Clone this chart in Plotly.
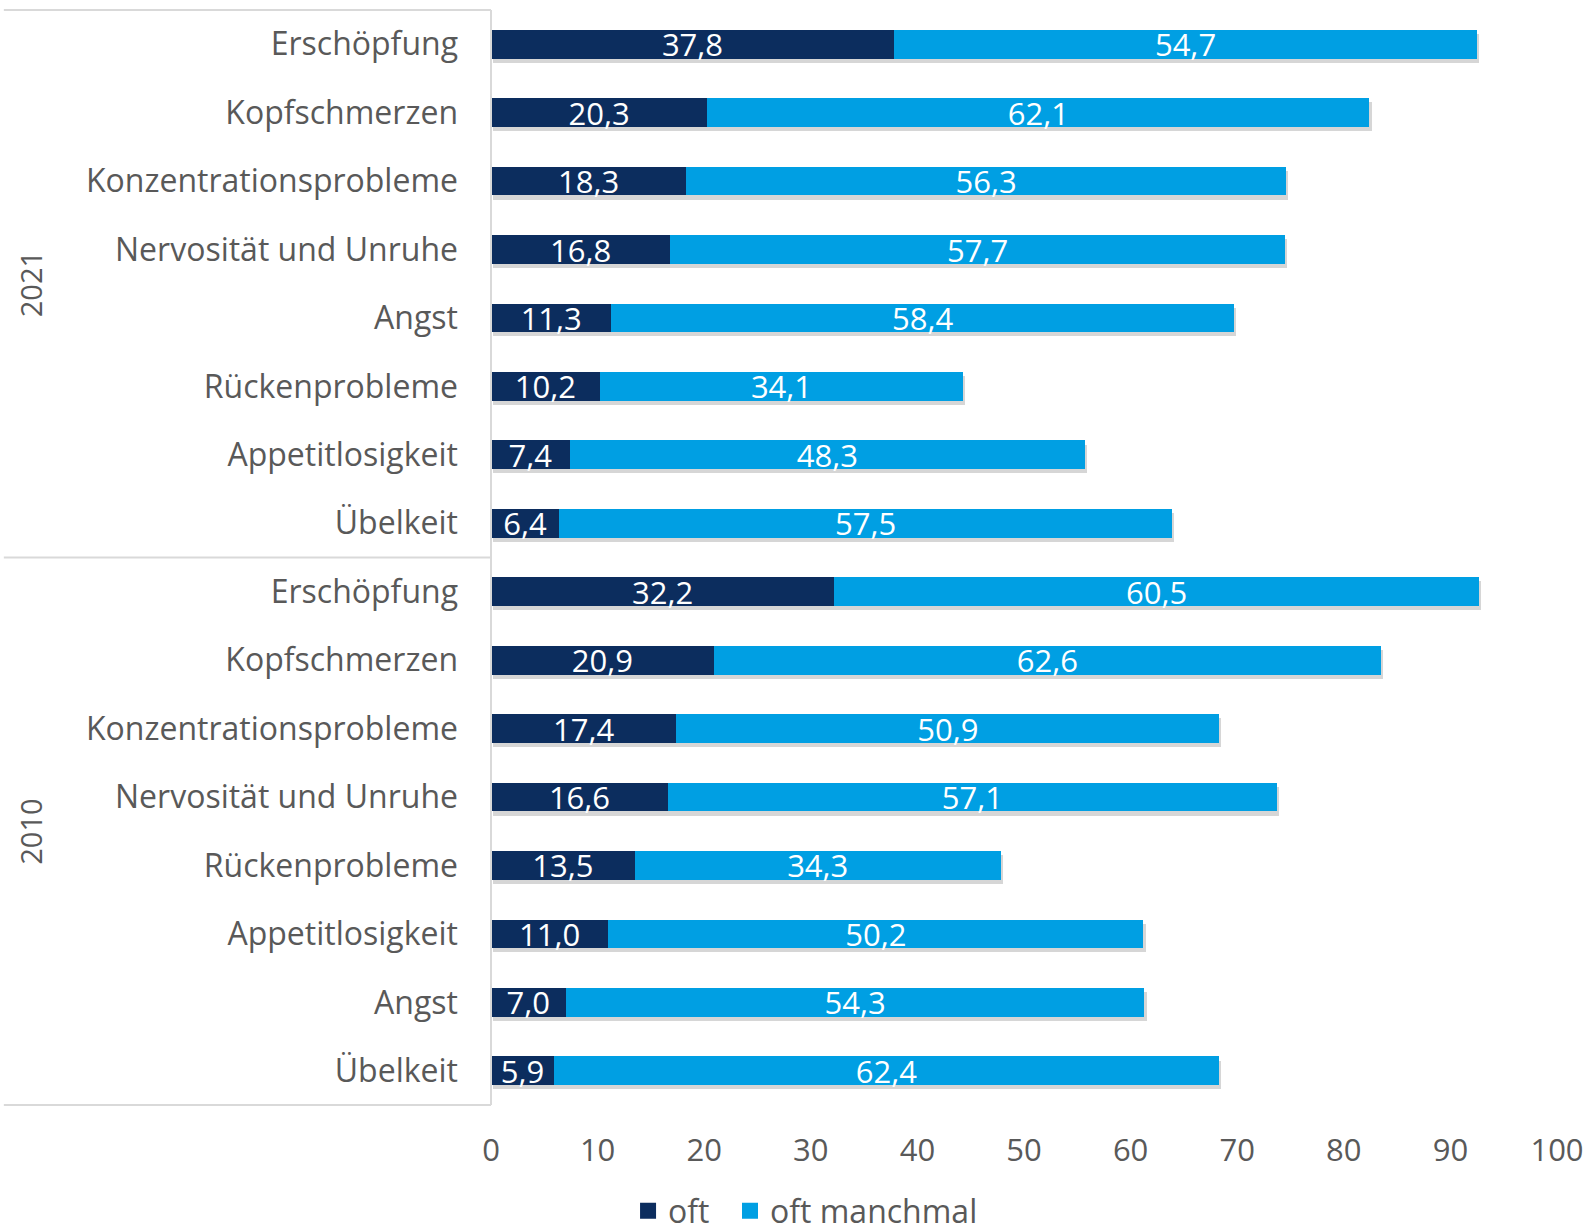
import plotly.graph_objects as go

# Survey: how often pupils report symptoms (percent), 2021 vs 2010
years = ["2021", "2010"]

symptoms_2021 = ["Erschöpfung", "Kopfschmerzen", "Konzentrationsprobleme",
                 "Nervosität und Unruhe", "Angst", "Rückenprobleme",
                 "Appetitlosigkeit", "Übelkeit"]
oft_2021 = [37.8, 20.3, 18.3, 16.8, 11.3, 10.2, 7.4, 6.4]
manchmal_2021 = [54.7, 62.1, 56.3, 57.7, 58.4, 34.1, 48.3, 57.5]

symptoms_2010 = ["Erschöpfung", "Kopfschmerzen", "Konzentrationsprobleme",
                 "Nervosität und Unruhe", "Rückenprobleme", "Appetitlosigkeit",
                 "Angst", "Übelkeit"]
oft_2010 = [32.2, 20.9, 17.4, 16.6, 13.5, 11.0, 7.0, 5.9]
manchmal_2010 = [60.5, 62.6, 50.9, 57.1, 34.3, 50.2, 54.3, 62.4]

x_ticks = [0, 10, 20, 30, 40, 50, 60, 70, 80, 90, 100]

DARK = "#0c2d5e"
LIGHT = "#009fe3"
GREY = "#595959"
LINE = "#d9d9d9"
FONT = "Open Sans"

labels = symptoms_2021 + symptoms_2010
oft = oft_2021 + oft_2010
manchmal = manchmal_2021 + manchmal_2010
totals = [a + b for a, b in zip(oft, manchmal)]
rows = list(range(len(labels)))
n1 = len(symptoms_2021)
n = len(labels)

BAR_W = 0.42


def de(v):
    return f"{v:.1f}".replace(".", ",")


fig = go.Figure()

# soft drop shadow under each bar (drawn on the base axes, nudged down-right)
fig.add_trace(go.Bar(
    y=rows, x=totals, orientation="h", width=BAR_W,
    marker=dict(color="rgba(0,0,0,0.16)", line=dict(width=0)),
    xaxis="x", yaxis="y", showlegend=False, hoverinfo="skip",
))

fig.add_trace(go.Bar(
    y=rows, x=oft, orientation="h", width=BAR_W,
    marker=dict(color=DARK, line=dict(width=0)),
    text=[de(v) for v in oft], textposition="inside",
    insidetextanchor="middle", textangle=0,
    textfont=dict(family=FONT, size=31, color="white"),
    xaxis="x2", yaxis="y2", showlegend=False, hoverinfo="skip",
))
fig.add_trace(go.Bar(
    y=rows, x=manchmal, orientation="h", width=BAR_W,
    marker=dict(color=LIGHT, line=dict(width=0)),
    text=[de(v) for v in manchmal], textposition="inside",
    insidetextanchor="middle", textangle=0,
    textfont=dict(family=FONT, size=31, color="white"),
    xaxis="x2", yaxis="y2", showlegend=False, hoverinfo="skip",
))

# legend entries with larger square swatches, one legend box each
for name, col, leg in [("oft", DARK, "legend"), ("oft manchmal", LIGHT, "legend2")]:
    fig.add_trace(go.Scatter(
        x=[None], y=[None], mode="markers", name=name, legend=leg,
        marker=dict(symbol="square", size=16, color=col),
        xaxis="x2", yaxis="y2",
    ))

shapes = [
    # vertical axis line
    dict(type="line", xref="paper", yref="paper", x0=0, x1=0, y0=0, y1=1,
         line=dict(color=LINE, width=2)),
    # group frame lines on the left
    dict(type="line", xref="paper", yref="paper", x0=-0.457, x1=0, y0=1, y1=1,
         line=dict(color=LINE, width=2)),
    dict(type="line", xref="paper", yref="y2", x0=-0.457, x1=0,
         y0=n1 - 0.5, y1=n1 - 0.5, line=dict(color=LINE, width=2)),
    dict(type="line", xref="paper", yref="paper", x0=-0.457, x1=0, y0=0, y1=0,
         line=dict(color=LINE, width=2)),
]

annotations = [
    dict(text=years[0], xref="paper", yref="y2", x=-0.432, y=(n1 - 1) / 2,
         xanchor="center", yanchor="middle",
         textangle=-90, showarrow=False,
         font=dict(family=FONT, size=29, color=GREY)),
    dict(text=years[1], xref="paper", yref="y2", x=-0.432, y=n1 + (n - n1 - 1) / 2,
         xanchor="center", yanchor="middle",
         textangle=-90, showarrow=False,
         font=dict(family=FONT, size=29, color=GREY)),
]

# shadow offset: ~2 px right, ~4 px down
dx = 0.2
dy = 0.06

hidden = dict(showgrid=False, zeroline=False, showline=False, ticks="",
              showticklabels=False, fixedrange=True)

legend_common = dict(orientation="h", xref="container", xanchor="left",
                     yref="container", y=0.017, yanchor="middle",
                     font=dict(family=FONT, size=32, color=GREY),
                     itemsizing="trace", itemwidth=30,
                     bgcolor="rgba(0,0,0,0)")

fig.update_layout(
    width=1588, height=1232,
    margin=dict(l=491, r=31, t=10, b=127, autoexpand=False),
    paper_bgcolor="white", plot_bgcolor="white",
    barmode="stack", bargap=0.58,
    font=dict(family=FONT, size=32, color=GREY),
    uniformtext=dict(minsize=31, mode="show"),
    xaxis=dict(range=[0 - dx, 100 - dx], **hidden),
    yaxis=dict(range=[n - 0.5 - dy, -0.5 - dy], **hidden),
    xaxis2=dict(range=[0, 100], tickvals=x_ticks,
                ticktext=[str(t) for t in x_ticks], overlaying="x",
                showgrid=False, zeroline=False, showline=False, ticks="",
                tickfont=dict(family=FONT, size=31, color=GREY),
                ticklabelstandoff=24, fixedrange=True),
    yaxis2=dict(range=[n - 0.5, -0.5], tickvals=rows, ticktext=labels,
                overlaying="y",
                showgrid=False, zeroline=False, showline=False, ticks="",
                tickfont=dict(family=FONT, size=32, color=GREY),
                ticklabelstandoff=32, fixedrange=True),
    legend=dict(x=0.3955, **legend_common),
    legend2=dict(x=0.4597, **legend_common),
    shapes=shapes, annotations=annotations,
)

fig.write_html("out.html")
